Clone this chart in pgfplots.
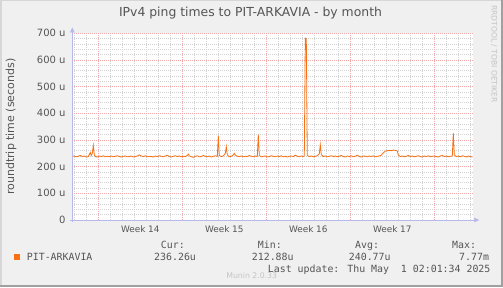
\documentclass[border=0pt]{standalone}
\usepackage{pgfplots}
\pgfplotsset{compat=1.18}
\usepackage{fontspec}
\setmainfont{DejaVu Sans}
\newfontfamily\mono{DejaVu Sans Mono}
\usetikzlibrary{arrows.meta}
\definecolor{bg}{HTML}{F0F0F0}
\definecolor{txt}{HTML}{555555}
\definecolor{ser}{RGB}{248,112,20}
\definecolor{mingrid}{HTML}{D2D2D2}
\definecolor{majgrid}{HTML}{F2A8A8}
\definecolor{axcol}{HTML}{B8B8EC}
\definecolor{faint}{HTML}{C4C4C4}
\begin{document}
\begin{tikzpicture}[x=1pt,y=1pt]
\fill[bg] (0,0) rectangle (503,287);
\draw[line width=1.5pt, color={rgb,255:red,215;green,215;blue,215}] (0.75,0) -- (0.75,286.25) -- (503,286.25);
\draw[line width=2.5pt, color={rgb,255:red,160;green,160;blue,160}] (0,1.25) -- (501.75,1.25) -- (501.75,287);
\begin{axis}[
  at={(72.3pt,67pt)}, anchor=south west,
  scale only axis, width=401pt, height=186.7pt,
  xmin=0, xmax=401, ymin=0, ymax=700,
  clip=false,
  axis line style={draw=none},
  axis background/.style={fill=white},
  tick style={draw=none},
  xtick={68,152,236,320},
  xticklabels={Week 14,Week 15,Week 16,Week 17},
  xticklabel style={font=\fontsize{8.9}{10}\selectfont, text=txt, anchor=north, inner sep=0pt, yshift=-5.7pt},
  minor xtick={2,14,38,50,62,74,86,98,122,134,146,158,170,182,206,218,230,242,254,266,290,302,314,326,338,350,374,386,398},
  xminorgrids=true,
  extra x ticks={26,110,194,278,362},
  extra x tick labels={},
  extra x tick style={grid=major, major grid style={majgrid, dash pattern=on 1pt off 1pt, line width=0.6pt}},
  ytick={0,100,...,700},
  yticklabels={0\hspace{6.6pt},100 u,200 u,300 u,400 u,500 u,600 u,700 u},
  yticklabel style={font=\fontsize{10}{12}\selectfont, text=txt, anchor=east, inner sep=0pt, xshift=-6.6pt},
  minor ytick={20,40,60,80,120,140,160,180,220,240,260,280,320,340,360,380,420,440,460,480,520,540,560,580,620,640,660,680},
  ymajorgrids=true, yminorgrids=true,
  major grid style={majgrid, dash pattern=on 1pt off 1pt, line width=0.6pt},
  minor grid style={mingrid, dash pattern=on 1pt off 1pt, line width=0.6pt},
]
\addplot[ser, line width=0.8pt, sharp plot, mark=none] table {
x y
0 239
2 240
4 237
6 239
8 242
10 238
12 240
14 236
16 238
18 253
19 242
20 250
21 280
22 244
23 238
25 236
27 240
29 238
31 241
33 237
35 239
37 238
39 240
41 237
43 239
45 241
47 238
49 236
51 239
53 240
55 237
57 238
59 240
61 236
63 238
65 240
67 244
69 240
71 238
73 241
75 237
77 239
79 238
81 236
83 240
85 238
87 241
89 239
91 237
93 240
95 243
97 238
99 236
101 239
103 241
105 238
107 240
109 237
111 239
113 238
115 242
116 247
117 241
119 237
121 235
123 239
125 241
127 237
129 238
131 242
133 239
135 237
137 240
139 236
141 239
143 241
145 238
146 316
147 242
149 238
151 240
153 250
154 275
155 244
157 237
159 239
161 244
162 250
163 243
165 239
167 238
169 240
171 237
173 239
175 238
177 242
179 239
181 237
183 240
185 238
186 320
187 242
189 237
191 239
193 240
195 236
197 238
199 241
201 239
203 237
205 240
207 238
209 241
211 237
213 239
215 236
217 239
219 240
221 238
223 243
225 239
227 237
229 240
231 238
232 240
233 682
234 680
235 242
237 238
239 240
241 237
243 239
245 241
247 248
248 282
249 245
251 238
253 240
255 237
257 239
259 241
261 238
263 240
265 237
267 239
269 242
271 238
273 236
275 240
277 238
279 241
281 237
283 239
285 243
287 238
289 236
291 240
293 239
295 237
297 240
299 238
301 241
303 237
305 239
307 240
309 243
311 252
313 258
315 260
317 261
319 260
321 262
323 261
325 259
326 244
328 238
330 240
332 237
334 239
336 242
338 238
340 240
342 237
344 239
346 241
348 238
350 236
352 240
354 238
356 241
358 237
360 239
362 240
364 238
366 236
368 240
370 242
372 238
374 240
376 237
378 239
380 240
381 326
382 244
384 238
386 240
388 237
390 241
392 239
394 236
396 240
398 238
400 236
};
\draw[axcol, line width=0.8pt, -{Triangle[width=4.5pt,length=5pt]}] (axis cs:-2,0) -- (axis cs:407,0);
\draw[axcol, line width=0.8pt, -{Triangle[width=4.5pt,length=5pt]}] (axis cs:0,-8) -- (axis cs:0,722);
\end{axis}
\node[text=txt, font=\fontsize{12.4}{14}\selectfont] at (250.5,273.5) {IPv4 ping times to PIT-ARKAVIA - by month};
\node[text=txt, font=\fontsize{11}{13}\selectfont, rotate=90] at (11,160.3) {roundtrip time (seconds)};
\node[text=faint, font=\fontsize{7.6}{9}\selectfont, rotate=-90] at (494,233) {RRDTOOL / TOBI OETIKER};
\node[text=faint, font=\fontsize{7.75}{9}\selectfont] at (251.7,11) {Munin 2.0.33};
\fill[ser] (14,27) rectangle (20,33);
\begin{scope}[every node/.style={text=txt, font=\mono\fontsize{9.9}{11}\selectfont, inner sep=0pt, anchor=base west}]
\node at (26.7,26.7) {PIT-ARKAVIA};
\node at (160.7,38.4) {Cur:};
\node at (154,26.7) {236.26u};
\node at (257.7,38.4) {Min:};
\node at (251.7,26.7) {212.88u};
\node at (355,38.4) {Avg:};
\node at (348.7,26.7) {240.77u};
\node at (452,38.4) {Max:};
\node at (459,26.7) {7.77m};
\node at (267.7,14.1) {Last update: Thu May\ \ 1 02:01:34 2025};
\end{scope}
\pgfresetboundingbox
\useasboundingbox (0,0) rectangle (503,287);
\end{tikzpicture}
\end{document}
